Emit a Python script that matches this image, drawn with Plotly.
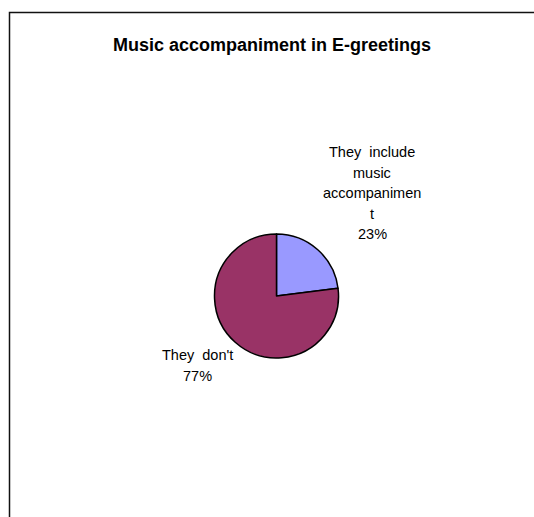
import plotly.graph_objects as go

labels = ["They include music accompaniment", "They don't"]
values = [23, 77]
colors = ["#9999FF", "#993366"]
title = "Music accompaniment in E-greetings"

W, H = 534, 517
cx, cy, r = 276.5, 296, 62

fig = go.Figure(go.Pie(
    labels=labels, values=values, sort=False, direction="clockwise", rotation=0,
    marker=dict(colors=colors, line=dict(color="#000000", width=1.5)),
    textinfo="none", hoverinfo="label+percent", showlegend=False,
    domain=dict(x=[(cx - r) / W, (cx + r) / W], y=[1 - (cy + r) / H, 1 - (cy - r) / H]),
))

total = sum(values)
pct = [f"{round(v * 100 / total)}%" for v in values]
label_lines = [
    ["They\u00a0 include", "music", "accompanimen", "t", pct[0]],
    ["They\u00a0 don't", pct[1]],
]
label_pos = [(372, 152), (197, 355)]
annotations = []
for lines, (lx, ly) in zip(label_lines, label_pos):
    for i, ln in enumerate(lines):
        annotations.append(dict(
            x=lx / W, y=1 - (ly + i * 20.6) / H, xref="paper", yref="paper",
            text=ln, showarrow=False, xanchor="center", yanchor="middle",
            font=dict(family="Liberation Sans, Arial", size=14.5, color="#000000"),
        ))
annotations.append(dict(
    x=272 / W, y=1 - 45 / H, xref="paper", yref="paper", text=f"<b>{title}</b>",
    showarrow=False, xanchor="center", yanchor="middle",
    font=dict(family="Liberation Sans, Arial", size=18, color="#000000"),
))

fig.update_layout(
    width=W, height=H, margin=dict(l=0, r=0, t=0, b=0),
    paper_bgcolor="#FFFFFF", plot_bgcolor="#FFFFFF",
    annotations=annotations,
    shapes=[dict(type="rect", xref="paper", yref="paper",
                 x0=9.5 / W, x1=1.2, y0=1 - 12.5 / H, y1=-0.2,
                 line=dict(color="#111111", width=1.5))],
)
fig.write_html("out.html", config={"displayModeBar": False},
               post_script="document.body.style.margin='0';document.body.style.overflow='hidden';")
